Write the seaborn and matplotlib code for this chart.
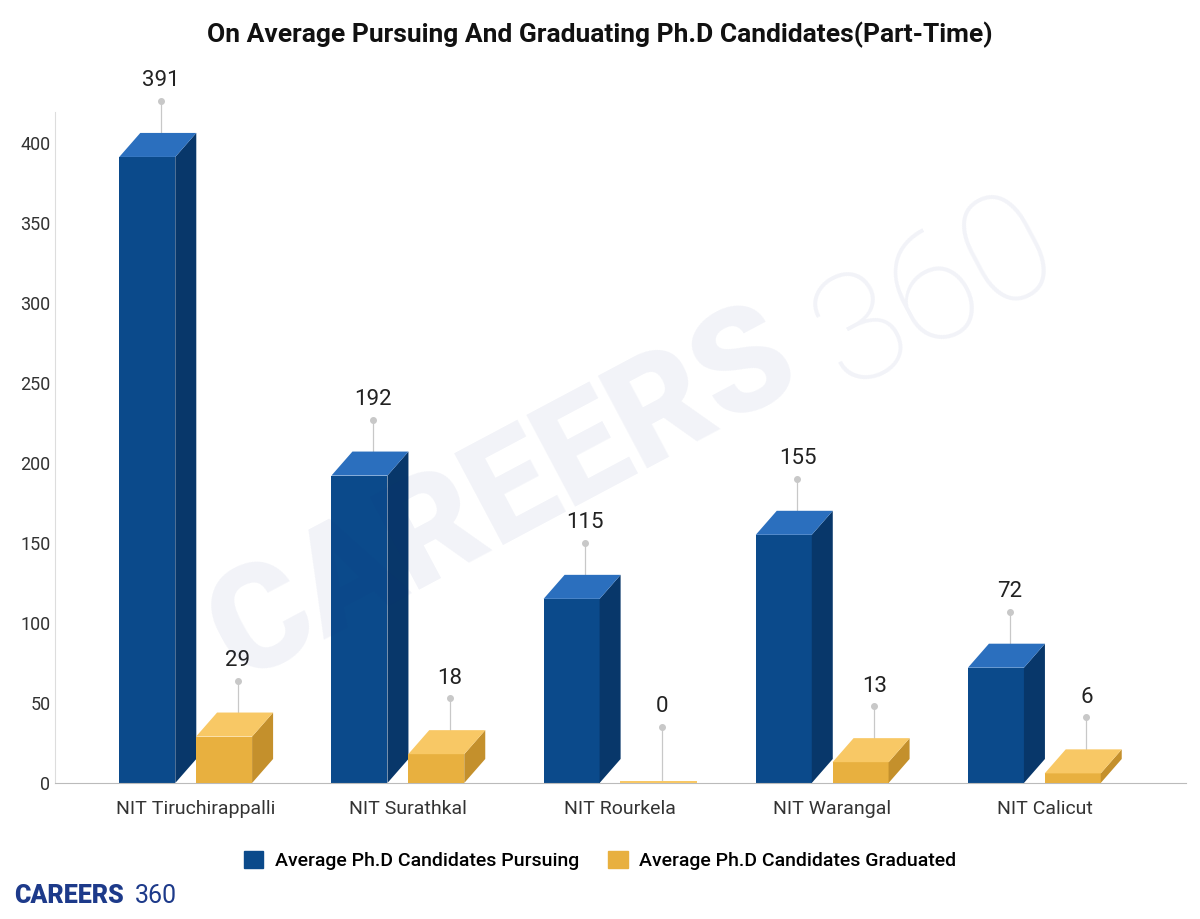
import matplotlib
matplotlib.use("Agg")
import matplotlib.pyplot as plt
import seaborn as sns
import pandas as pd
from matplotlib.patches import Polygon, Rectangle

categories = ["NIT Tiruchirappalli", "NIT Surathkal", "NIT Rourkela", "NIT Warangal", "NIT Calicut"]
pursuing = [391, 192, 115, 155, 72]
graduated = [29, 18, 0, 13, 6]
series_names = ["Average Ph.D Candidates Pursuing", "Average Ph.D Candidates Graduated"]
yticks = [0, 50, 100, 150, 200, 250, 300, 350, 400]

plt.rcParams["font.family"] = "Roboto"

fig = plt.figure(figsize=(12, 9.19), dpi=100)
ax = fig.add_axes([0.046, 0.148, 0.942, 0.73])
front = ["#0b4a8b", "#e8b03f"]
side = ["#08376a", "#c4902c"]
top = ["#2b6fbe", "#f8c865"]
w = 0.264
offsets = [-0.362, 0.0]
dx, dy = 0.099, 15
for i, vals in enumerate([pursuing, graduated]):
    d = pd.DataFrame({"cat": categories, "val": vals})
    n0 = len(ax.patches)
    sns.barplot(data=d, x="cat", y="val", color=front[i], saturation=1, width=w, ax=ax, zorder=2 + i)
    for j, v in enumerate(vals):
        p = ax.patches[n0 + j]
        x0 = j + offsets[i]
        p.set_x(x0); p.set_linewidth(0)
        if v == 0:
            p.set_width(w + dx); p.set_height(1.2); p.set_facecolor(top[i])
            h, dtop = 1.2, 0
        else:
            h, dtop = v, dy
            ax.add_patch(Polygon([(x0 + w, 0), (x0 + w + dx, dy), (x0 + w + dx, h + dy), (x0 + w, h)],
                                 closed=True, color=side[i], lw=0, zorder=2 + i))
            ax.add_patch(Polygon([(x0, h), (x0 + w, h), (x0 + w + dx, h + dy), (x0 + dx, h + dy)],
                                 closed=True, color=top[i], lw=0, zorder=2 + i))
        cx = x0 + w / 2 + dx / 2 + 0.015
        ax.plot([cx, cx], [h + dtop, v + 35], color="#c8c8c8", lw=0.9, zorder=1, clip_on=False)
        ax.plot([cx], [v + 35], "o", color="#c8c8c8", ms=4, clip_on=False)
        ax.text(cx, v + 41, str(v), ha="center", va="bottom", fontsize=16, color="#222")

ax.set_xlim(-0.664, 4.664)
ax.set_ylim(0, 419)
ax.set_yticks(yticks)
ax.tick_params(axis="both", length=0, labelsize=13, colors="#333")
ax.tick_params(axis="x", pad=12, labelsize=14)
ax.set_xlabel(""); ax.set_ylabel("")
for sp in ["top", "right"]:
    ax.spines[sp].set_visible(False)
ax.spines["left"].set_color("#dddddd")
ax.spines["bottom"].set_color("#bbbbbb")

fig.text(0.5, 0.962, "On Average Pursuing And Graduating Ph.D Candidates(Part-Time)",
         ha="center", va="center", fontsize=19, fontweight="bold", color="#111")
fig.text(0.42, 0.46, "CAREERS", fontsize=105, fontweight="black", color="#1a2f80", alpha=0.06,
         rotation=28, ha="center", va="center")
fig.text(0.78, 0.68, "360", fontsize=110, fontweight="light", color="#1a2f80", alpha=0.06,
         rotation=28, ha="center", va="center")

handles = [Rectangle((0, 0), 1, 1, color=c) for c in front]
fig.legend(handles, series_names, loc="center", bbox_to_anchor=(0.5, 0.064), ncol=2,
           frameon=False, prop={"size": 14, "weight": "medium"}, handlelength=1, handleheight=1,
           columnspacing=1.5, handletextpad=0.6)
fig.text(0.012, 0.025, "CAREERS", fontsize=18, fontweight="black", color="#1d3a8a", va="center")
fig.text(0.112, 0.025, "360", fontsize=18, color="#1d3a8a", va="center")
fig.savefig("out.png", dpi=100)
